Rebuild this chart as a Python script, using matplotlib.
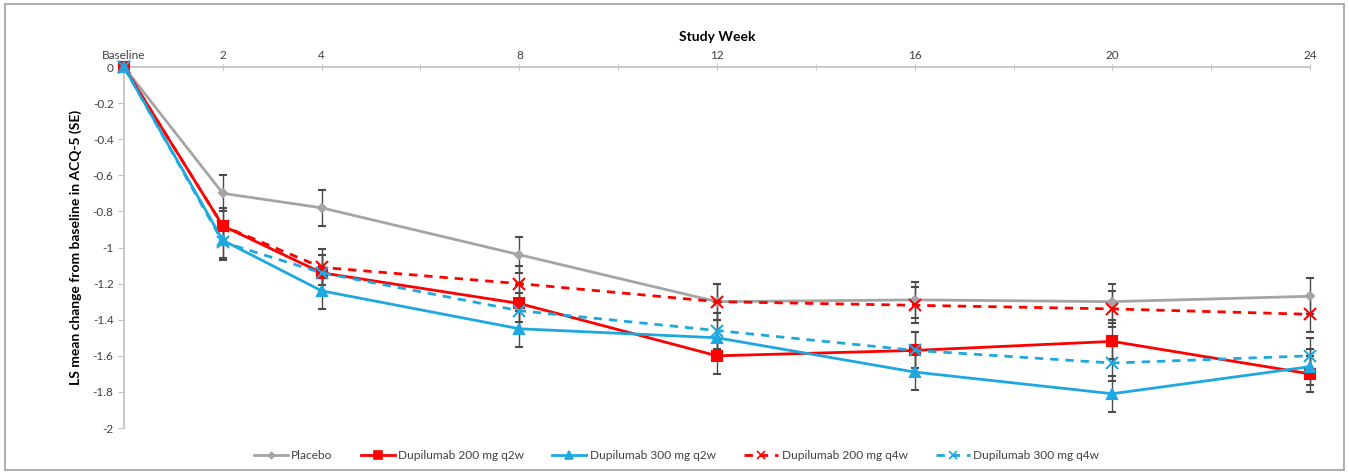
import matplotlib
matplotlib.use("agg")
import matplotlib.pyplot as plt
from matplotlib.patches import Rectangle
from matplotlib.lines import Line2D
from matplotlib.ticker import FuncFormatter

plt.rcParams['font.family'] = ['Lato', 'DejaVu Sans']
plt.rcParams['axes.unicode_minus'] = False

weeks = [0, 2, 4, 8, 12, 16, 20, 24]
week_labels = ['Baseline', '2', '4', '8', '12', '16', '20', '24']

placebo = [0, -0.70, -0.78, -1.04, -1.30, -1.29, -1.30, -1.27]
d200_q2w = [0, -0.88, -1.14, -1.31, -1.60, -1.57, -1.52, -1.70]
d300_q2w = [0, -0.96, -1.24, -1.45, -1.50, -1.69, -1.81, -1.66]
d200_q4w = [0, -0.88, -1.11, -1.20, -1.30, -1.32, -1.34, -1.37]
d300_q4w = [0, -0.97, -1.14, -1.35, -1.46, -1.57, -1.64, -1.60]

se_placebo = [0, 0.10, 0.10, 0.10, 0.10, 0.10, 0.10, 0.10]
se_200_q2w = [0, 0.10, 0.10, 0.10, 0.10, 0.10, 0.10, 0.10]
se_300_q2w = [0, 0.10, 0.10, 0.10, 0.10, 0.10, 0.10, 0.10]
se_200_q4w = [0, 0.10, 0.10, 0.10, 0.10, 0.10, 0.10, 0.10]
se_300_q4w = [0, 0.10, 0.10, 0.10, 0.10, 0.10, 0.10, 0.10]

gray = '#A5A5A5'
red = '#FF0000'
blue = '#1EA8E0'
ecol = '#4A4A4A'

fig = plt.figure(figsize=(13.49, 4.74), dpi=100)
ax = fig.add_axes([0.0919, 0.097, 0.8792, 0.7616])

series = [
    (placebo, se_placebo, 'Placebo', gray, '-', 'D', 4),
    (d200_q2w, se_200_q2w, 'Dupilumab 200 mg q2w', red, '-', 's', 7),
    (d300_q2w, se_300_q2w, 'Dupilumab 300 mg q2w', blue, '-', '^', 7),
    (d200_q4w, se_200_q4w, 'Dupilumab 200 mg q4w', red, (0, (3, 2.5)), 'x', 8),
    (d300_q4w, se_300_q4w, 'Dupilumab 300 mg q4w', blue, (0, (3, 2.5)), 'x', 8),
]

handles = []
for vals, se, lab, col, ls, mk, ms in series:
    ax.errorbar(weeks, vals, yerr=se, color=col, ecolor=ecol, elinewidth=1,
                capsize=3, capthick=1, linestyle=ls, linewidth=2, marker=mk,
                markersize=ms, markeredgewidth=1.5, clip_on=False, zorder=3)
    handles.append(Line2D([], [], color=col, linestyle=ls, linewidth=2,
                          marker=mk, markersize=ms * 0.8, markeredgewidth=1.2,
                          label=lab))

ax.set_xlim(0, 24)
ax.set_ylim(-2, 0)
ax.set_yticks([-2 + 0.2 * i for i in range(11)])
ax.yaxis.set_major_formatter(FuncFormatter(lambda v, p: '%g' % round(v, 1)))
ax.set_xticks(weeks)
ax.set_xticklabels(week_labels)
ax.set_xticks(list(range(0, 25, 2)), minor=True)

ax.xaxis.tick_top()
ax.xaxis.set_label_position('top')
ax.set_xlabel('Study Week', fontsize=10, fontweight='bold', labelpad=6)
ax.set_ylabel('LS mean change from baseline in ACQ-5 (SE)', fontsize=10,
              fontweight='bold', labelpad=8)

for s in ['right', 'bottom']:
    ax.spines[s].set_visible(False)
for s in ['top', 'left']:
    ax.spines[s].set_color('#BFBFBF')
    ax.spines[s].set_linewidth(1.2)

ax.tick_params(axis='x', which='both', direction='inout', length=5,
               color='#BFBFBF', labelsize=8.5, labelcolor='#404040', pad=2)
ax.tick_params(axis='y', direction='out', length=4, color='#BFBFBF',
               labelsize=8.5, labelcolor='#404040')

leg = fig.legend(handles=handles, loc='center', bbox_to_anchor=(0.5015, 0.038),
                 ncol=5, frameon=False, fontsize=8.6, handlelength=2.85,
                 handletextpad=0.3, columnspacing=2.35)
for t in leg.get_texts():
    t.set_color('#404040')

fig.patches.append(Rectangle((0.004, 0.008), 0.992, 0.984, transform=fig.transFigure,
                             fill=False, edgecolor='#A0A0A0', linewidth=1.2))

fig.savefig('out.png', dpi=100)
